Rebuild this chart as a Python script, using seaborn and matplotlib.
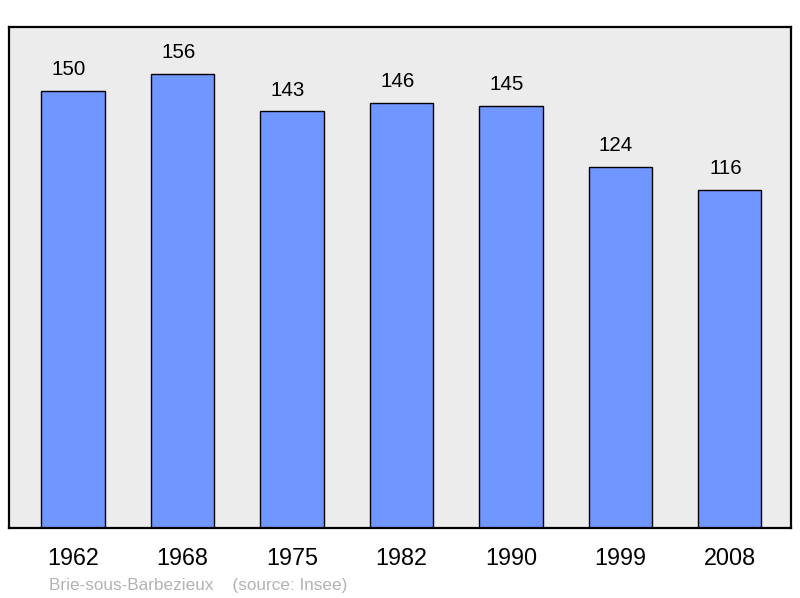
import matplotlib
matplotlib.use("Agg")
import matplotlib.pyplot as plt
import seaborn as sns
import pandas as pd

years = ["1962", "1968", "1975", "1982", "1990", "1999", "2008"]
population = [150, 156, 143, 146, 145, 124, 116]
commune = "Brie-sous-Barbezieux"
source = "(source: Insee)"

sns.set_style("white")
plt.rcParams["font.family"] = ["Liberation Sans", "DejaVu Sans"]
plt.rcParams["text.color"] = "black"
plt.rcParams["xtick.color"] = "black"

df = pd.DataFrame({"year": years, "pop": population})

fig = plt.figure(figsize=(8, 5.98), dpi=100)
ax = fig.add_axes([0.01125, 0.1171, 0.9775, 0.8377])
ax.set_facecolor("#ececec")

sns.barplot(data=df, x="year", y="pop", color="#7096ff", saturation=1,
            width=0.58, edgecolor="black", linewidth=1, ax=ax)

# value labels above bars
for i, v in enumerate(population):
    ax.annotate(str(v), (i, v), xytext=(-3, 11.5), textcoords="offset points",
                ha="center", va="baseline", fontsize=14.8, color="black")

ax.set_xlim(-0.586, 6.56)
ax.set_ylim(0, 172)
ax.set_yticks([])
ax.set_xlabel("")
ax.set_ylabel("")
ax.tick_params(axis="x", length=0, pad=14, labelsize=16.8, labelcolor="black")
for s in ax.spines.values():
    s.set_visible(True)
    s.set_color("black")
    s.set_linewidth(1.6)

fig.text(0.061, 0.013, commune + "    " + source, color="#b3b3b3",
         fontsize=12.3, ha="left", va="baseline")

fig.savefig("out.png", dpi=100)
plt.close()
